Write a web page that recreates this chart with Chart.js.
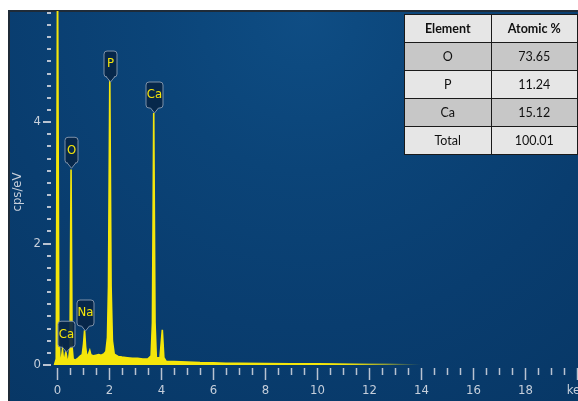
<!DOCTYPE html>
<html>
<head>
<meta charset="utf-8">
<script src="https://cdn.jsdelivr.net/npm/chart.js@4.4.1/dist/chart.umd.min.js"></script>
<style>
    html, body { margin: 0; padding: 0; background: #fff; }
    #wrap { position: relative; width: 578px; height: 401px; overflow: hidden; }
    canvas { display: block; }
    #quant {
        position: absolute; left: 404px; top: 14px; width: 174px;
        border-collapse: collapse; table-layout: fixed;
        font-family: Lato, 'Liberation Sans', sans-serif; font-size: 12.5px; color: #111;
    }
    #quant td, #quant th { border: 1px solid #1a1a1a; text-align: center; height: 27px; padding: 0; }
    #quant th { background: #e6e6e6; font-weight: bold; }
    #quant tr.dark td { background: #c7c7c7; }
    #quant tr.light td { background: #e6e6e6; }
</style>
</head>
<body>
<div id="wrap">
    <canvas id="eds" width="578" height="401"></canvas>
    <table id="quant"></table>
</div>
<script>
// spectrum (energy in keV, counts in cps/eV)
const energyKeV = [-0.10, -0.03, 0.02, 0.07, 0.11, 0.16, 0.21, 0.25, 0.29, 0.34, 0.39, 0.45, 0.50, 0.54, 0.58,
    0.62, 0.70, 0.80, 0.90, 0.97, 1.02, 1.06, 1.10, 1.14, 1.20, 1.26, 1.30, 1.40, 1.50, 1.60, 1.70, 1.80,
    1.88, 1.94, 1.98, 2.03, 2.08, 2.13, 2.20, 2.35, 2.50, 2.70, 2.90, 3.10, 3.30, 3.50, 3.62, 3.67, 3.72,
    3.77, 3.82, 3.96, 4.05, 4.11, 4.20, 4.50, 5.00, 5.50, 6.00, 6.50, 7.00, 8.00, 9.00, 10.00, 11.00,
    12.00, 12.80, 13.50, 14.00];
const countsCps = [0, 0.10, 6.50, 0.60, 0.12, 0.08, 0.25, 0.09, 0.10, 0.22, 0.08, 0.10, 0.30, 3.22, 0.30,
    0.10, 0.08, 0.11, 0.15, 0.17, 0.35, 0.57, 0.30, 0.16, 0.17, 0.24, 0.17, 0.15, 0.16, 0.17, 0.16, 0.18,
    0.22, 0.45, 1.30, 4.70, 1.30, 0.40, 0.18, 0.14, 0.13, 0.12, 0.11, 0.11, 0.10, 0.10, 0.15, 0.70, 4.15,
    0.70, 0.12, 0.12, 0.58, 0.12, 0.06, 0.055, 0.05, 0.04, 0.035, 0.03, 0.03, 0.025, 0.02, 0.018, 0.015,
    0.012, 0.01, 0.005, 0];

// element markers
const peakNames = ['Ca', 'O', 'Na', 'P', 'Ca'];
const peakKeV = [0.35, 0.54, 1.06, 2.03, 3.72];
const peakTipCps = [0.21, 3.24, 0.56, 4.66, 4.15];

// quantification table
const tableElements = ['O', 'P', 'Ca', 'Total'];
const tableAtomic = ['73.65', '11.24', '15.12', '100.01'];

const yellow = '#f5e60a';
const axisText = '#c6cfdb';

const table = document.getElementById('quant');
table.innerHTML = '<tr><th>Element</th><th>Atomic %</th></tr>' +
    tableElements.map((el, i) =>
        `<tr class="${i % 2 === 0 ? 'dark' : 'light'}"><td>${el}</td><td>${tableAtomic[i]}</td></tr>`
    ).join('');

const edsPlugin = {
    id: 'eds',
    beforeDraw(chart) {
        const c = chart.ctx;
        c.save();
        c.fillStyle = '#fff';
        c.fillRect(0, 0, chart.width, chart.height);
        const g = c.createRadialGradient(305, 15, 0, 305, 15, 520);
        g.addColorStop(0, '#0f4d84');
        g.addColorStop(0.1, '#0d4a80');
        g.addColorStop(0.3, '#0b4478');
        g.addColorStop(0.6, '#093d6f');
        g.addColorStop(1, '#073664');
        c.fillStyle = g;
        c.fillRect(8, 10, chart.width - 8, chart.height - 10);
        c.strokeStyle = '#1f2b38';
        c.lineWidth = 2;
        c.beginPath();
        c.moveTo(9, chart.height);
        c.lineTo(9, 11);
        c.lineTo(chart.width, 11);
        c.stroke();
        c.restore();
    },
    afterDatasetsDraw(chart) {
        const c = chart.ctx;
        const x = chart.scales.x;
        const y = chart.scales.y;
        c.save();
        c.font = '13px "Liberation Sans Narrow", "DejaVu Sans Condensed", Roboto, sans-serif';
        c.textAlign = 'center';
        c.textBaseline = 'middle';
        peakNames.forEach((name, i) => {
            const cx = Math.round(x.getPixelForValue(peakKeV[i])) + 0.5;
            const tip = y.getPixelForValue(peakTipCps[i]);
            const w = name.length > 1 ? 17 : 13;
            const h = 26;
            const bottom = tip - 5;
            const left = cx - w / 2;
            const top = bottom - h;
            c.beginPath();
            c.moveTo(left + 3, top);
            c.lineTo(left + w - 3, top);
            c.quadraticCurveTo(left + w, top, left + w, top + 3);
            c.lineTo(left + w, bottom - 3);
            c.quadraticCurveTo(left + w, bottom, left + w - 3, bottom);
            c.lineTo(cx + 4, bottom);
            c.lineTo(cx, tip);
            c.lineTo(cx - 4, bottom);
            c.lineTo(left + 3, bottom);
            c.quadraticCurveTo(left, bottom, left, bottom - 3);
            c.lineTo(left, top + 3);
            c.quadraticCurveTo(left, top, left + 3, top);
            c.closePath();
            c.fillStyle = 'rgba(8, 38, 72, 0.92)';
            c.fill();
            c.strokeStyle = '#7d90a8';
            c.lineWidth = 1;
            c.stroke();
            c.fillStyle = yellow;
            c.fillText(name, cx, top + h / 2);
        });
        c.restore();
    },
    afterDraw(chart) {
        const c = chart.ctx;
        const x = chart.scales.x;
        const y = chart.scales.y;
        const area = chart.chartArea;
        c.save();
        c.strokeStyle = '#b9c3d1';
        c.fillStyle = axisText;
        c.font = '13px "Liberation Sans Narrow", "DejaVu Sans Condensed", Roboto, sans-serif';

        // x axis: minor every 0.5 keV, labels every 2 keV
        c.lineWidth = 1.5;
        c.textAlign = 'center';
        c.textBaseline = 'middle';
        x.ticks.forEach(t => {
            const h2 = t.value * 2;
            if (Math.abs(h2 - Math.round(h2)) > 1e-6) return;
            const v = Math.round(h2) / 2;
            const px = Math.round(x.getPixelForValue(v)) + 0.5;
            const major = Number.isInteger(v) && v % 2 === 0;
            c.beginPath();
            c.moveTo(px, area.bottom + 3);
            c.lineTo(px, area.bottom + (major ? 15 : 10));
            c.stroke();
            if (major) c.fillText(v === 20 ? 'keV' : String(v), px, area.bottom + 26);
        });

        // y axis: minor every 0.2, labels every 2
        c.lineWidth = 2;
        c.textAlign = 'right';
        y.ticks.forEach(t => {
            const v = Math.round(t.value * 5) / 5;
            if (Math.abs(t.value - v) > 1e-6) return;
            const py = Math.round(y.getPixelForValue(v));
            const major = Math.abs(v / 2 - Math.round(v / 2)) < 1e-6;
            c.beginPath();
            c.moveTo(area.left - (major ? 7 : 3), py);
            c.lineTo(area.left + 1, py);
            c.stroke();
            if (major) c.fillText(String(Math.round(v)), area.left - 9, py);
        });

        c.translate(18, 192);
        c.rotate(-Math.PI / 2);
        c.textAlign = 'center';
        c.font = '13px "Liberation Sans Narrow", "DejaVu Sans Condensed", Roboto, sans-serif';
        c.fillText('cps/eV', 0, 0);
        c.restore();
    }
};

function spectrumFill(ctx) {
    const chart = ctx.chart;
    if (!chart.chartArea) return yellow;
    const x = chart.scales.x;
    const g = chart.ctx.createLinearGradient(x.getPixelForValue(10.5), 0, x.getPixelForValue(14), 0);
    g.addColorStop(0, 'rgba(245, 230, 10, 1)');
    g.addColorStop(0.6, 'rgba(245, 230, 10, 0.45)');
    g.addColorStop(1, 'rgba(245, 230, 10, 0)');
    return g;
}

new Chart(document.getElementById('eds'), {
    type: 'line',
    data: {
        datasets: [{
            data: energyKeV.map((e, i) => ({ x: e, y: countsCps[i] })),
            borderColor: spectrumFill,
            backgroundColor: spectrumFill,
            borderWidth: 1.6,
            fill: 'origin',
            pointRadius: 0,
            tension: 0,
        }],
    },
    options: {
        responsive: false,
        animation: false,
        devicePixelRatio: 1,
        layout: { padding: { top: 11, left: 0, right: 0, bottom: 0 } },
        plugins: {
            legend: { display: false },
            tooltip: { enabled: false },
        },
        scales: {
            x: {
                type: 'linear',
                min: -0.27,
                max: 20.04,
                ticks: { display: false, stepSize: 0.5, includeBounds: false },
                grid: { display: false },
                border: { display: false },
                afterFit: s => { s.height = 36; },
            },
            y: {
                min: 0,
                max: 5.83,
                ticks: { display: false, stepSize: 0.2, includeBounds: false },
                grid: { display: false },
                border: { display: false },
                afterFit: s => { s.width = 50; },
            },
        },
    },
    plugins: [edsPlugin],
});
</script>
</body>
</html>
